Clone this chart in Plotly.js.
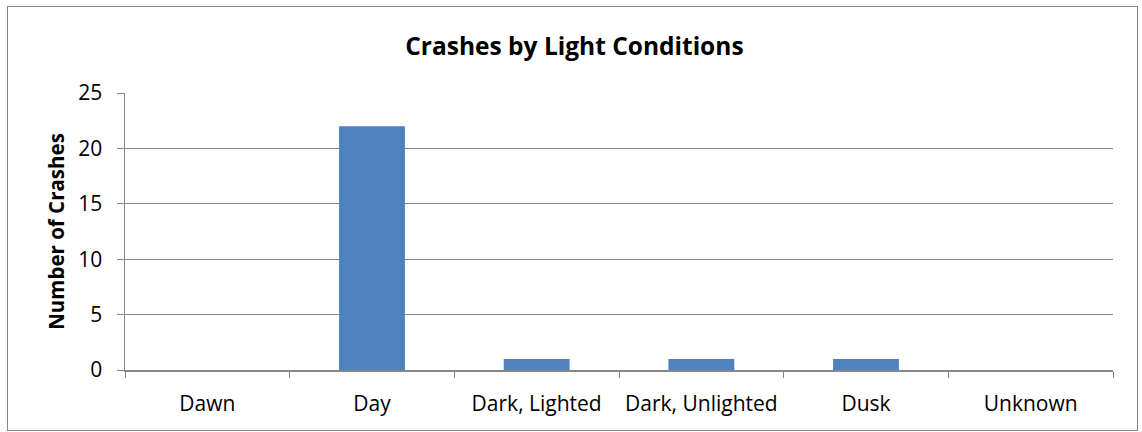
<!DOCTYPE html>
<html>
<head>
<meta charset="utf-8">
<script src="https://cdn.plot.ly/plotly-3.0.1.min.js"></script>
<style>
  html, body { margin: 0; padding: 0; background: #fff; }
  #wrap { position: relative; width: 1142px; height: 432px; }
  #chart { width: 1142px; height: 432px; }
  #frame { position: absolute; left: 7px; top: 6px; width: 1129px; height: 423px;
           border: 1px solid #868686; pointer-events: none; }
</style>
</head>
<body>
<div id="wrap">
  <div id="chart"></div>
  <div id="frame"></div>
</div>
<script>
const categories = ["Dawn", "Day", "Dark, Lighted", "Dark, Unlighted", "Dusk", "Unknown"];
const crashes = [0, 22, 1, 1, 1, 0];
const yTicks = [0, 5, 10, 15, 20, 25];

const FONT = "'Open Sans', Lato, 'Noto Sans', sans-serif";

const trace = {
  type: "bar",
  x: categories,
  y: crashes,
  marker: { color: "#4F81BD" },
  hoverinfo: "x+y"
};

const layout = {
  width: 1142,
  height: 432,
  margin: { l: 125, r: 29, t: 93, b: 62 },
  paper_bgcolor: "#ffffff",
  plot_bgcolor: "#ffffff",
  bargap: 0.6,
  showlegend: false,
  title: {
    text: "<b>Crashes by Light Conditions</b>",
    font: { family: FONT, size: 24.5, color: "#000000" },
    x: 0.503, xanchor: "center",
    y: 0.893, yanchor: "middle"
  },
  xaxis: {
    type: "category",
    showline: true, linecolor: "#868686", linewidth: 1.5,
    ticks: "outside", tickson: "boundaries", ticklen: 6, tickcolor: "#868686",
    showgrid: false,
    tickfont: { family: FONT, size: 21, color: "#000000" },
    ticklabelstandoff: 14
  },
  yaxis: {
    range: [0, 25],
    tickvals: yTicks,
    showline: true, linecolor: "#868686", linewidth: 1.5,
    ticks: "outside", ticklen: 7, tickcolor: "#868686",
    showgrid: true, gridcolor: "#868686", gridwidth: 1,
    zeroline: false,
    tickfont: { family: FONT, size: 21, color: "#000000" },
    ticklabelstandoff: 10,
    title: {
      text: "<b>Number of Crashes</b>",
      font: { family: FONT, size: 20.5, color: "#000000" },
      standoff: 8
    }
  }
};

Plotly.newPlot("chart", [trace], layout, { displayModeBar: false, staticPlot: true });
</script>
</body>
</html>
